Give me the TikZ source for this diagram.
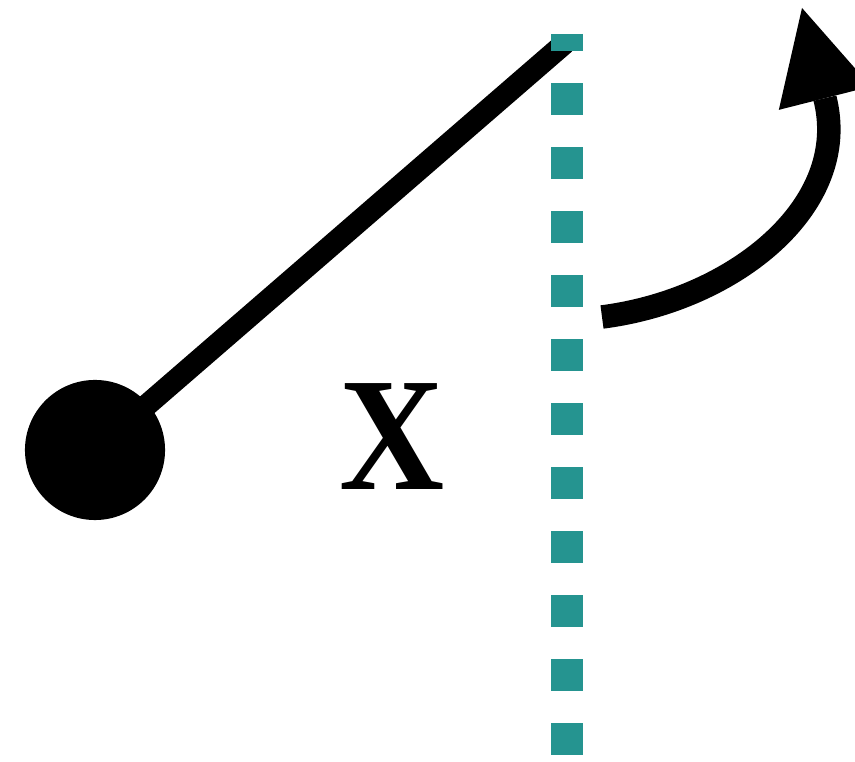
\documentclass[tikz,border=0pt]{standalone}
\usepackage{fontspec}
\setmainfont{Liberation Serif}
\usetikzlibrary{arrows.meta}
\definecolor{myteal}{RGB}{37,148,144}
\tikzset{
  pivot/.style={circle, fill=black, minimum size=1.4cm, inner sep=0pt},
  rod/.style={draw=black, line width=0.22cm},
  axisline/.style={draw=myteal, line width=0.32cm, dash pattern=on 0.32cm off 0.32cm, dash phase=0.15cm},
  turn/.style={-{Triangle[length=0.93cm, width=0.95cm, line width=0pt]}, draw=black, line width=0.235cm},
  bigletter/.style={font=\bfseries\fontsize{46}{46}\selectfont, inner sep=0pt, xscale=0.9}
}

\begin{document}
\begin{tikzpicture}[x=0.01cm, y=-0.01cm]
  \useasboundingbox (0,0) rectangle (855,762);

  % Pivot and rod (Left)
  \node[pivot] (bob) at (95,450) {};
  \coordinate (rodend) at (565,43);
  \draw[rod] (bob.center) -- (rodend);

  % Vertical axis (Center)
  \coordinate (axtop) at (567,34);
  \coordinate (axbot) at (567,755);
  \draw[axisline] (axtop) -- (axbot);

  % Angle label
  \node[bigletter, anchor=base] (xlabel) at (392,490) {X};

  % Rotation arrow (Right)
  \coordinate (tail) at (602,317);
  \coordinate (tip) at (802,8);
  \draw[turn] (tail) .. controls (735,300) and (852,205) .. (tip);
\end{tikzpicture}
\end{document}
